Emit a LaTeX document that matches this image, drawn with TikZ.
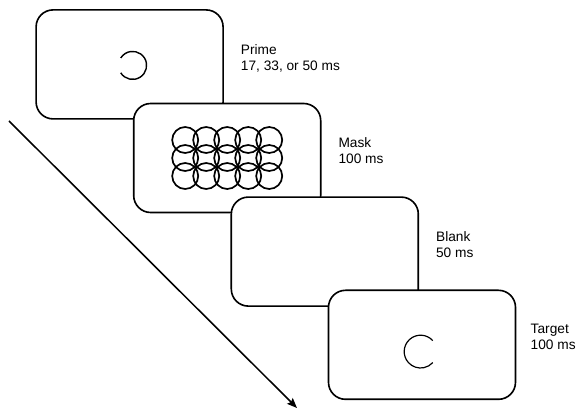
\documentclass[tikz,border=0pt]{standalone}
\usepackage{fontspec}
\setmainfont{Liberation Sans}
\usetikzlibrary{positioning, calc, arrows.meta}

\tikzset{
    screen/.style={draw, fill=white, line width=2.3pt, rounded corners=0.85cm,
        minimum width=9.35cm, minimum height=5.45cm, inner sep=0pt},
    lbl/.style={align=left, inner sep=0pt, outer sep=0pt,
        font=\fontsize{19.5}{22.8}\selectfont},
}

\begin{document}
\begin{tikzpicture}
    \useasboundingbox (0,0) rectangle (28.8,-20.5);

    % Time arrow
    \coordinate (tstart) at (0.45,-6.05);
    \coordinate (tend) at (14.85,-20.4);
    \draw[line width=2.2pt, -{Stealth[length=0.5cm, width=0.4cm, inset=0.08cm]}] (tstart) -- (tend);

    % Frame 1: Prime
    \node[screen] (prime) at (6.48,-3.22) {};
    \draw[line width=2pt] ($(prime)+(0.15,-0.05)+(-148:0.7)$) arc[start angle=-148, end angle=148, radius=0.7];
    \node[lbl, below right=1.75cm and 0.85cm of prime.north east] (primelbl) {Prime\\17, 33, or 50 ms};

    % Frame 2: Mask (grid of circles)
    \node[screen] (mask) at (11.36,-7.9) {};
    \foreach \i in {-2,...,2} {
        \foreach \j in {-1,0,1} {
            \draw[line width=2.4pt] ($(mask)+(1.05*\i,-0.9*\j)$) circle[radius=0.65];
        }
    }
    \node[lbl, below right=1.75cm and 0.85cm of mask.north east] (masklbl) {Mask\\100 ms};

    % Frame 3: Blank
    \node[screen] (blank) at (16.24,-12.58) {};
    \node[lbl, below right=1.75cm and 0.85cm of blank.north east] (blanklbl) {Blank\\50 ms};

    % Frame 4: Target (label pulled in a little to stay on the page)
    \node[screen] (target) at (21.1,-17.24) {};
    \draw[line width=1.7pt] ($(target)+(-0.07,-0.34)+(42:0.82)$) arc[start angle=42, end angle=318, radius=0.82];
    \node[lbl, below right=1.75cm and 0.72cm of target.north east] (targetlbl) {Target\\100 ms};

\end{tikzpicture}
\end{document}
